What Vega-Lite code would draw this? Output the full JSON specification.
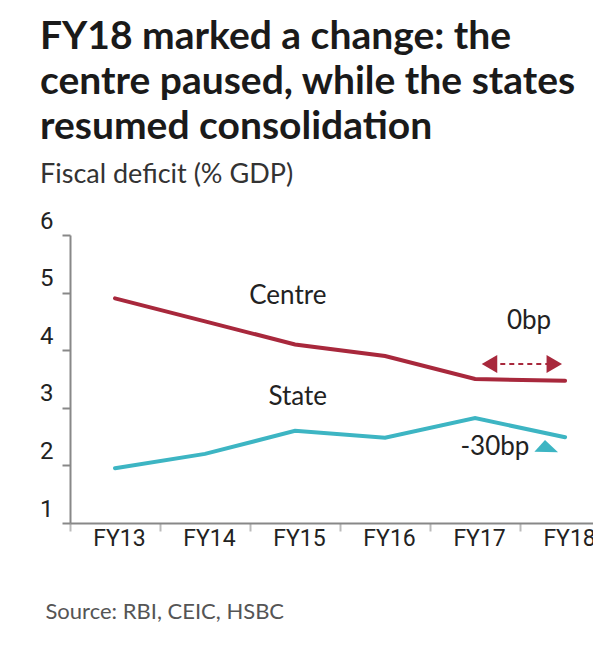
{
  "$schema": "https://vega.github.io/schema/vega-lite/v6.json",
  "width": 523,
  "height": 288,
  "autosize": "none",
  "padding": {"left": 70, "top": 235, "right": 0, "bottom": 127},
  "background": "white",
  "config": {"font": "Lato", "view": {"stroke": null}},
  "title": {
    "text": ["FY18 marked a change: the", "centre paused, while the states", "resumed consolidation"],
    "subtitle": "Fiscal deficit (% GDP)",
    "anchor": "start",
    "frame": "group",
    "dx": -30,
    "offset": 21,
    "font": "Lato",
    "fontSize": 39,
    "fontWeight": "bold",
    "color": "#1a1a1a",
    "lineHeight": 45,
    "subtitleFont": "Lato",
    "subtitleFontSize": 27,
    "subtitleColor": "#333333",
    "subtitlePadding": 15
  },
  "datasets": {
    "series": [
      {"year": 2013, "value": 4.9, "series": "Centre"},
      {"year": 2014, "value": 4.5, "series": "Centre"},
      {"year": 2015, "value": 4.1, "series": "Centre"},
      {"year": 2016, "value": 3.9, "series": "Centre"},
      {"year": 2017, "value": 3.5, "series": "Centre"},
      {"year": 2018, "value": 3.47, "series": "Centre"},
      {"year": 2013, "value": 1.95, "series": "State"},
      {"year": 2014, "value": 2.2, "series": "State"},
      {"year": 2015, "value": 2.6, "series": "State"},
      {"year": 2016, "value": 2.48, "series": "State"},
      {"year": 2017, "value": 2.82, "series": "State"},
      {"year": 2018, "value": 2.49, "series": "State"}
    ],
    "labels": [
      {"label": "Centre", "x": 2014.92, "y": 4.94},
      {"label": "State", "x": 2015.03, "y": 3.19},
      {"label": "0bp", "x": 2017.6, "y": 4.51},
      {"label": "-30bp", "x": 2017.22, "y": 2.32}
    ],
    "arrow": [
      {"x": 2017.18, "x2": 2017.86, "y": 3.76}
    ],
    "heads": [
      {"x": 2017.16, "y": 3.76, "dir": "left"},
      {"x": 2017.88, "y": 3.76, "dir": "right"}
    ],
    "tealhead": [
      {"x": 2017.79, "y": 2.33}
    ]
  },
  "layer": [
    {
      "data": {"name": "series"},
      "mark": {"type": "line", "strokeWidth": 4, "strokeCap": "round"},
      "encoding": {
        "x": {
          "field": "year",
          "type": "quantitative",
          "scale": {"domain": [2012.5, 2018.31], "nice": false, "zero": false},
          "axis": {
            "values": [2012.5, 2013.5, 2014.5, 2015.5, 2016.5, 2017.5],
            "labelExpr": "'FY' + (datum.value - 1999.5)",
            "labelOffset": 49,
            "labelFlush": false,
            "labelOverlap": false,
            "labelFont": "Roboto",
            "labelFontSize": 23,
            "labelColor": "#222222",
            "labelPadding": -4,
            "labelBaseline": "top",
            "grid": false,
            "domainColor": "#888888",
            "domainWidth": 2,
            "tickColor": "#bbbbbb",
            "tickWidth": 2,
            "tickSize": 8,
            "title": "Source: RBI, CEIC, HSBC",
            "titleX": -25,
            "titleY": 95,
            "titleAlign": "left",
            "titleAnchor": null,
            "titleBaseline": "alphabetic",
            "titleFont": "Lato",
            "titleFontSize": 22,
            "titleFontWeight": "normal",
            "titleColor": "#555555"
          }
        },
        "y": {
          "field": "value",
          "type": "quantitative",
          "scale": {"domain": [1, 6], "nice": false, "zero": false},
          "axis": {
            "values": [1, 2, 3, 4, 5, 6],
            "format": "d",
            "grid": false,
            "title": null,
            "labelFont": "Roboto",
            "labelFontSize": 24,
            "labelColor": "#222222",
            "labelBaseline": "alphabetic",
            "labelOffset": -7,
            "labelPadding": 9,
            "domainColor": "#888888",
            "domainWidth": 2,
            "tickColor": "#888888",
            "tickWidth": 2,
            "tickSize": 8
          }
        },
        "color": {
          "field": "series",
          "type": "nominal",
          "scale": {"domain": ["Centre", "State"], "range": ["#a8283c", "#3db5c3"]},
          "legend": null
        }
      }
    },
    {
      "data": {"name": "labels"},
      "mark": {"type": "text", "font": "Lato", "fontSize": 26, "color": "#222222", "baseline": "middle", "align": "center"},
      "encoding": {
        "x": {"field": "x", "type": "quantitative"},
        "y": {"field": "y", "type": "quantitative"},
        "text": {"field": "label"}
      }
    },
    {
      "data": {"name": "arrow"},
      "mark": {"type": "rule", "color": "#a8283c", "strokeWidth": 2, "strokeDash": [5, 4]},
      "encoding": {
        "x": {"field": "x", "type": "quantitative"},
        "x2": {"field": "x2"},
        "y": {"field": "y", "type": "quantitative"}
      }
    },
    {
      "data": {"name": "heads"},
      "transform": [{"filter": "datum.dir == 'left'"}],
      "mark": {"type": "point", "shape": "triangle-left", "filled": true, "opacity": 1, "color": "#a8283c", "size": 320},
      "encoding": {
        "x": {"field": "x", "type": "quantitative"},
        "y": {"field": "y", "type": "quantitative"}
      }
    },
    {
      "data": {"name": "heads"},
      "transform": [{"filter": "datum.dir == 'right'"}],
      "mark": {"type": "point", "shape": "triangle-right", "filled": true, "opacity": 1, "color": "#a8283c", "size": 320},
      "encoding": {
        "x": {"field": "x", "type": "quantitative"},
        "y": {"field": "y", "type": "quantitative"}
      }
    },
    {
      "data": {"name": "tealhead"},
      "mark": {"type": "point", "shape": "M-1,0.45L-0.1,-0.55L1,0.5Z", "filled": true, "opacity": 1, "color": "#3db5c3", "size": 560},
      "encoding": {
        "x": {"field": "x", "type": "quantitative"},
        "y": {"field": "y", "type": "quantitative"}
      }
    }
  ]
}
